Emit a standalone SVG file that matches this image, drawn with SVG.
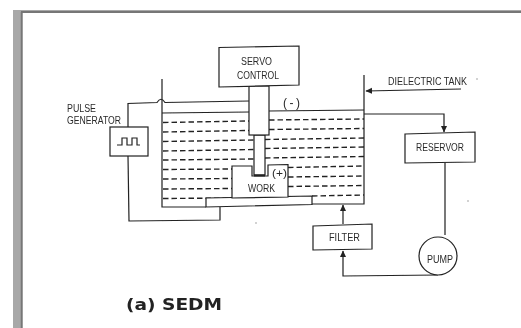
<svg xmlns="http://www.w3.org/2000/svg" width="521" height="328" viewBox="0 0 521 328">
<style>
.l{fill:none;stroke:#222;stroke-width:1.2}
.b{fill:#fff;stroke:#222;stroke-width:1.2}
.d{fill:none;stroke:#222;stroke-width:1.4;stroke-dasharray:5.5 3}
.t{font-family:"Liberation Sans",Arial,sans-serif;font-size:10px;fill:#2a2a2a}
</style>
<defs>
<filter id="s" x="-5%" y="-5%" width="110%" height="110%"><feGaussianBlur stdDeviation="0.35"/></filter>
<marker id="a" markerWidth="6" markerHeight="7" refX="5" refY="3" orient="auto"><path d="M0 0.5L5.500 3L0 5.500z" fill="#222"/></marker>
</defs>
<rect width="521" height="328" fill="#fff"/>
<g id="frame">
<path d="M13 10H521V13H23V328H13z" fill="#a8a8a8"/>
<path d="M21 12H521" stroke="#666" stroke-width="1.500"/>
<path d="M21.500 12V328" stroke="#777" stroke-width="1.500"/>
</g>
<g filter="url(#s)">
<g id="connectors">
<path class="l" d="M128 127V103.500L157 102.500Q161 96 165 102.500L249 101"/>
<path class="l" d="M128 156L129 221L220 220V207"/>
<path class="l" d="M461 89L366 91" marker-end="url(#a)"/>
<path class="l" d="M364 114H444V132" marker-end="url(#a)"/>
<path class="l" d="M445 163V235"/>
<path class="l" d="M438 275L343 276V251" marker-end="url(#a)"/>
<path class="l" d="M343 224V205" marker-end="url(#a)"/>
</g>
<g id="dielectric-tank">
<path class="l" d="M162 79V207H206"/>
<path class="l" d="M364 75V204H312"/>
<path class="l" d="M162 113L249 112M269 111L364 110"/>
<path class="d" d="M163 122.500L249 121M269 120L364 119"/>
<path class="d" d="M163 132L249 130.500M269 129.500L364 128.500"/>
<path class="d" d="M163 141.500L254 140M265 139.500L364 138"/>
<path class="d" d="M163 151L254 149.500M265 148.500L364 147"/>
<path class="d" d="M163 160L254 159M265 158L364 156.500"/>
<path class="d" d="M163 169.500L232 169M288 167.500L364 166"/>
<path class="d" d="M163 179L232 178.500M288 177L364 176"/>
<path class="d" d="M163 189L232 188.500M288 186.500L364 185.500"/>
<path class="d" d="M163 198.500L232 198M312 196L364 195"/>
</g>
<g id="table"><path class="b" d="M206 198L312 196V204.500L206 207z"/></g>
<g id="work">
<path class="b" d="M232 166L252 166V176H268V165L288 164.500V197L232 198z"/>
<text class="t" x="248" y="192" textLength="27" lengthAdjust="spacingAndGlyphs">WORK</text>
<text class="t" x="272" y="177" textLength="15" lengthAdjust="spacingAndGlyphs">(+)</text>
</g>
<g id="electrode">
<rect class="b" x="254" y="135" width="11" height="40"/>
<path d="M254 175.500H265" stroke="#222" stroke-width="2"/>
</g>
<g id="ram"><rect class="b" x="249" y="86" width="20" height="49"/></g>
<g id="servo-control">
<path class="b" d="M219 47.500L299 46V85L219 87z"/>
<text class="t" x="241" y="65" textLength="31" lengthAdjust="spacingAndGlyphs">SERVO</text>
<text class="t" x="237" y="78.500" textLength="42" lengthAdjust="spacingAndGlyphs">CONTROL</text>
</g>
<text class="t" x="283" y="107" style="font-size:12px" textLength="17" lengthAdjust="spacing">(-)</text>
<g id="pulse-generator">
<rect class="b" x="110" y="127" width="38" height="29"/>
<path class="l" d="M117 145H122V138H127V145H132V138H137V145H140"/>
<text class="t" x="67" y="112" textLength="29" lengthAdjust="spacingAndGlyphs">PULSE</text>
<text class="t" x="67" y="124" textLength="54" lengthAdjust="spacingAndGlyphs">GENERATOR</text>
</g>
<text id="dielectric-label" class="t" x="388" y="85" textLength="79" lengthAdjust="spacingAndGlyphs">DIELECTRIC TANK</text>
<g id="reservoir">
<path class="b" d="M405 134L475 132V162L405 163z"/>
<text class="t" x="416" y="151" textLength="48" lengthAdjust="spacingAndGlyphs">RESERVOR</text>
</g>
<g id="filter">
<path class="b" d="M313 226L372 224V249L313 250z"/>
<text class="t" x="329" y="241" textLength="31" lengthAdjust="spacingAndGlyphs">FILTER</text>
</g>
<g id="pump">
<circle class="b" cx="438" cy="256" r="19"/>
<text class="t" x="427" y="263" textLength="26" lengthAdjust="spacingAndGlyphs">PUMP</text>
</g>
<text id="caption" x="126" y="310" font-family="DejaVu Sans,sans-serif" font-weight="700" font-size="15.500px" fill="#222" textLength="96" lengthAdjust="spacingAndGlyphs">(a) SEDM</text>
<g id="specks" fill="#999"><circle cx="477" cy="79" r="0.800"/><circle cx="468" cy="201" r="0.800"/><circle cx="256" cy="223" r="0.800"/></g>
</g>
</svg>
